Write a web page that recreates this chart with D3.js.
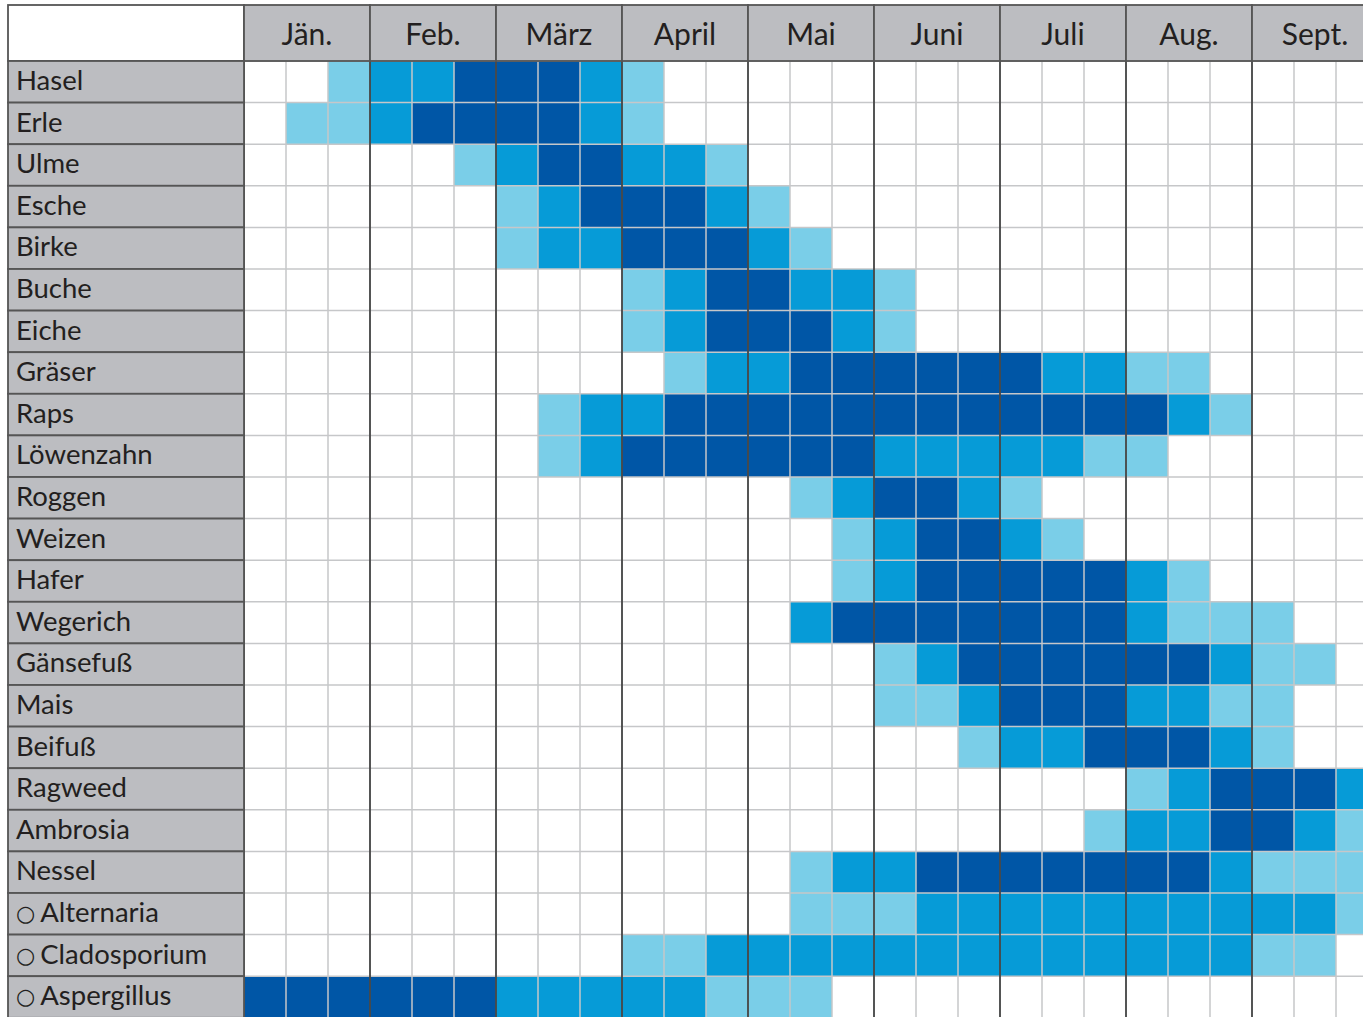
<!DOCTYPE html>
<html>
<head>
<meta charset="utf-8">
<script src="https://cdn.jsdelivr.net/npm/d3@7"></script>
<style>
  body { margin:0; background:#fff; }
  svg { display:block; }
</style>
</head>
<body>
<div id="chart"></div>
<script>
// Pollenkalender
var months = ["Jän.","Feb.","März","April","Mai","Juni","Juli","Aug.","Sept."]
var thirds = 3
var plants = ["Hasel","Erle","Ulme","Esche","Birke","Buche","Eiche","Gräser","Raps","Löwenzahn",
  "Roggen","Weizen","Hafer","Wegerich","Gänsefuß","Mais","Beifuß","Ragweed","Ambrosia","Nessel",
  "Alternaria","Cladosporium","Aspergillus"]
var fungi = ["Alternaria","Cladosporium","Aspergillus"]

// 0 = keine, 1 = gering, 2 = mittel, 3 = stark (je Monatsdrittel)
var levels = [
  [0,0,1,2,2,3,3,3,2,1,0,0,0,0,0,0,0,0,0,0,0,0,0,0,0,0,0], // Hasel
  [0,1,1,2,3,3,3,3,2,1,0,0,0,0,0,0,0,0,0,0,0,0,0,0,0,0,0], // Erle
  [0,0,0,0,0,1,2,3,3,2,2,1,0,0,0,0,0,0,0,0,0,0,0,0,0,0,0], // Ulme
  [0,0,0,0,0,0,1,2,3,3,3,2,1,0,0,0,0,0,0,0,0,0,0,0,0,0,0], // Esche
  [0,0,0,0,0,0,1,2,2,3,3,3,2,1,0,0,0,0,0,0,0,0,0,0,0,0,0], // Birke
  [0,0,0,0,0,0,0,0,0,1,2,3,3,2,2,1,0,0,0,0,0,0,0,0,0,0,0], // Buche
  [0,0,0,0,0,0,0,0,0,1,2,3,3,3,2,1,0,0,0,0,0,0,0,0,0,0,0], // Eiche
  [0,0,0,0,0,0,0,0,0,0,1,2,2,3,3,3,3,3,3,2,2,1,1,0,0,0,0], // Gräser
  [0,0,0,0,0,0,0,1,2,2,3,3,3,3,3,3,3,3,3,3,3,3,2,1,0,0,0], // Raps
  [0,0,0,0,0,0,0,1,2,3,3,3,3,3,3,2,2,2,2,2,1,1,0,0,0,0,0], // Löwenzahn
  [0,0,0,0,0,0,0,0,0,0,0,0,0,1,2,3,3,2,1,0,0,0,0,0,0,0,0], // Roggen
  [0,0,0,0,0,0,0,0,0,0,0,0,0,0,1,2,3,3,2,1,0,0,0,0,0,0,0], // Weizen
  [0,0,0,0,0,0,0,0,0,0,0,0,0,0,1,2,3,3,3,3,3,2,1,0,0,0,0], // Hafer
  [0,0,0,0,0,0,0,0,0,0,0,0,0,2,3,3,3,3,3,3,3,2,1,1,1,0,0], // Wegerich
  [0,0,0,0,0,0,0,0,0,0,0,0,0,0,0,1,2,3,3,3,3,3,3,2,1,1,0], // Gänsefuß
  [0,0,0,0,0,0,0,0,0,0,0,0,0,0,0,1,1,2,3,3,3,2,2,1,1,0,0], // Mais
  [0,0,0,0,0,0,0,0,0,0,0,0,0,0,0,0,0,1,2,2,3,3,3,2,1,0,0], // Beifuß
  [0,0,0,0,0,0,0,0,0,0,0,0,0,0,0,0,0,0,0,0,0,1,2,3,3,3,2], // Ragweed
  [0,0,0,0,0,0,0,0,0,0,0,0,0,0,0,0,0,0,0,0,1,2,2,3,3,2,1], // Ambrosia
  [0,0,0,0,0,0,0,0,0,0,0,0,0,1,2,2,3,3,3,3,3,3,3,2,1,1,1], // Nessel
  [0,0,0,0,0,0,0,0,0,0,0,0,0,1,1,1,2,2,2,2,2,2,2,2,2,2,1], // Alternaria
  [0,0,0,0,0,0,0,0,0,1,1,2,2,2,2,2,2,2,2,2,2,2,2,2,1,1,0], // Cladosporium
  [3,3,3,3,3,3,2,2,2,2,2,1,1,1,0,0,0,0,0,0,0,0,0,0,0,0,0]  // Aspergillus
]
var levelColors = ["#ffffff","#7acee8","#069bd7","#0056a6"]

var width = 1363
var height = 1017
var marge = {top:61, left:244, frameTop:5, frameLeft:8}
var gridRight = marge.left + months.length*thirds*42
var gridBottom = marge.top + plants.length*41.6

var svg = d3.select('#chart')
  .append('svg')
  .attr('width', width)
  .attr('height', height)

var x = d3.scaleBand()
  .domain(d3.range(months.length*thirds))
  .range([marge.left, gridRight])
var xMonth = d3.scaleBand()
  .domain(months)
  .range([marge.left, gridRight])
var y = d3.scaleBand()
  .domain(plants)
  .range([marge.top, gridBottom])
var color = d3.scaleOrdinal()
  .domain([0,1,2,3])
  .range(levelColors)

// cells
var cells = []
plants.forEach(function(p,i){
  levels[i].forEach(function(v,j){
    cells.push({plant:p, col:j, v:v})
  })
})
svg.append("g").selectAll("rect")
  .data(cells)
  .enter()
  .append("rect")
  .attr("x", function(d){ return x(d.col) })
  .attr("y", function(d){ return y(d.plant) })
  .attr("width", x.bandwidth())
  .attr("height", y.bandwidth())
  .attr("fill", function(d){ return color(d.v) })

// thin grid
var grid = svg.append("g").attr("stroke","#c6c7c9").attr("stroke-width",1.5)
grid.selectAll(".v")
  .data(x.domain())
  .enter()
  .append("line")
  .attr("x1", function(d){ return x(d) })
  .attr("x2", function(d){ return x(d) })
  .attr("y1", marge.top)
  .attr("y2", gridBottom)
grid.selectAll(".h")
  .data(plants)
  .enter()
  .append("line")
  .attr("x1", marge.left)
  .attr("x2", gridRight)
  .attr("y1", function(d){ return y(d) })
  .attr("y2", function(d){ return y(d) })

// month lines
svg.append("g").selectAll("line")
  .data(months)
  .enter()
  .append("line")
  .attr("x1", function(d){ return xMonth(d) })
  .attr("x2", function(d){ return xMonth(d) })
  .attr("y1", marge.top)
  .attr("y2", gridBottom)
  .attr("stroke","#2a2a2a")
  .attr("stroke-width",1.5)

// header
var head = svg.append("g")
head.append("rect")
  .attr("x", marge.frameLeft)
  .attr("y", marge.frameTop)
  .attr("width", marge.left-marge.frameLeft)
  .attr("height", marge.top-marge.frameTop)
  .attr("fill","#fff")
  .attr("stroke","#555")
  .attr("stroke-width",1.8)
var hg = head.selectAll(".month")
  .data(months)
  .enter()
  .append("g")
hg.append("rect")
  .attr("x", function(d){ return xMonth(d) })
  .attr("y", marge.frameTop)
  .attr("width", xMonth.bandwidth())
  .attr("height", marge.top-marge.frameTop)
  .attr("fill","#bcbdc1")
  .attr("stroke","#555")
  .attr("stroke-width",1.8)
hg.append("text")
  .attr("x", function(d){ return xMonth(d)+xMonth.bandwidth()/2 })
  .attr("y", 45)
  .attr("text-anchor","middle")
  .attr("font-family","Lato, 'Open Sans', sans-serif")
  .attr("font-size",30)
  .attr("fill","#231f20")
  .text(function(d){ return d })

// row labels
var lg = svg.append("g").selectAll(".label")
  .data(plants)
  .enter()
  .append("g")
lg.append("rect")
  .attr("x", marge.frameLeft)
  .attr("y", function(d){ return y(d) })
  .attr("width", marge.left-marge.frameLeft)
  .attr("height", y.bandwidth())
  .attr("fill","#bcbdc1")
  .attr("stroke","#555")
  .attr("stroke-width",1.8)
var lt = lg.append("text")
  .attr("x", 16)
  .attr("y", function(d){ return y(d)+29 })
  .attr("font-family","Lato, 'Open Sans', sans-serif")
  .attr("font-size",27.5)
  .attr("fill","#231f20")
lt.filter(function(d){ return fungi.indexOf(d) >= 0 })
  .append("tspan")
  .attr("font-family","'DejaVu Sans', sans-serif")
  .attr("font-size",22)
  .attr("dy",-1)
  .text("○")
lt.append("tspan")
  .attr("dy", function(d){ return fungi.indexOf(d) >= 0 ? 1 : 0 })
  .attr("dx", function(d){ return fungi.indexOf(d) >= 0 ? 5 : 0 })
  .text(function(d){ return d })
</script>
</body>
</html>
